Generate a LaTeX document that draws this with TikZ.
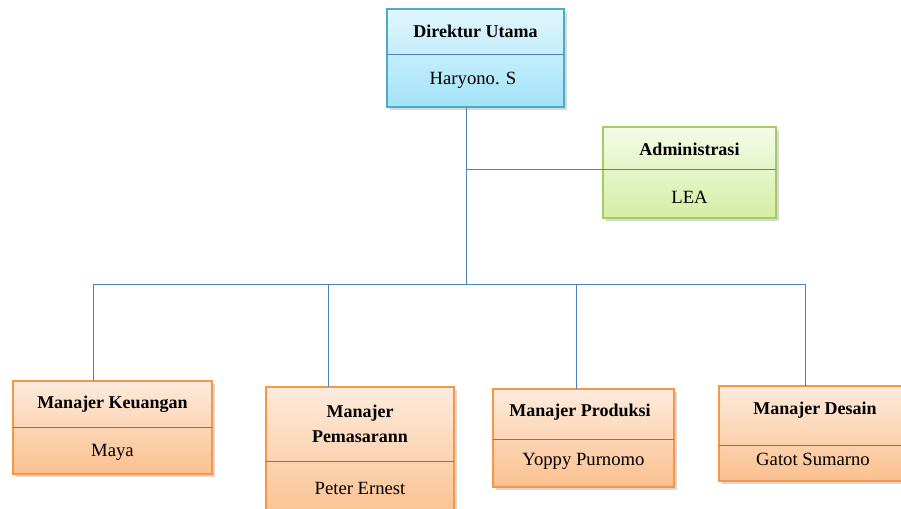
\documentclass[tikz,border=0pt]{standalone}
\usepackage{fontspec}
\setmainfont{Liberation Serif}
\usetikzlibrary{shadows}
\definecolor{garis}{HTML}{4F81BD}
\definecolor{birutepi}{HTML}{4BACC6}
\definecolor{birumuda}{HTML}{E2F6FD}
\definecolor{birutua}{HTML}{A2E3F7}
\definecolor{hijautepi}{HTML}{A5CB63}
\definecolor{hijaumuda}{HTML}{F4FBE8}
\definecolor{hijautua}{HTML}{D5EEA5}
\definecolor{oranyetepi}{HTML}{F79646}
\definecolor{oranyemuda}{HTML}{FDEBDD}
\definecolor{oranyetua}{HTML}{FBC08E}
\tikzset{
  kotak/.style={rectangle, line width=1pt, inner sep=0pt, outer sep=0pt,
    drop shadow={shadow xshift=2pt, shadow yshift=-2pt, opacity=0.3}},
  biru/.style={kotak, draw=birutepi, top color=birumuda, bottom color=birutua},
  hijau/.style={kotak, draw=hijautepi, top color=hijaumuda, bottom color=hijautua},
  oranye/.style={kotak, draw=oranyetepi, top color=oranyemuda, bottom color=oranyetua},
  judul/.style={font=\fontsize{13.5}{19}\selectfont\bfseries, align=center},
  nama/.style={font=\fontsize{14}{16}\selectfont},
  hubung/.style={draw=garis, line width=0.75pt}
}
\begin{document}
\begin{tikzpicture}[x=0.75pt, y=-0.75pt]
  \useasboundingbox (0,0) rectangle (901,508);
  \clip (0,0) rectangle (901,508);
  \fill[white] (0,0) rectangle (901,508);
  % kotak jabatan
  \node[biru, minimum width=132.75pt, minimum height=73.5pt] (dir) at (475.5,58) {};
  \node[hijau, minimum width=129.75pt, minimum height=68.25pt] (adm) at (689.5,172.5) {};
  \node[oranye, minimum width=149.25pt, minimum height=69.75pt] (keu) at (112.5,427.5) {};
  \node[oranye, minimum width=141pt, minimum height=99.75pt] (pem) at (360,453.5) {};
  \node[oranye, minimum width=135.75pt, minimum height=73.5pt] (pro) at (583.5,438) {};
  \node[oranye, minimum width=138pt, minimum height=71.25pt] (des) at (811,433.5) {};
  % garis pemisah
  \draw[hubung] (dir.west |- 0,54) -- (dir.east |- 0,54);
  \draw[hubung] (keu.west |- 0,427) -- (keu.east |- 0,427);
  \draw[hubung] (pem.west |- 0,461) -- (pem.east |- 0,461);
  \draw[hubung] (pro.west |- 0,439) -- (pro.east |- 0,439);
  \draw[hubung] (des.west |- 0,445) -- (des.east |- 0,445);
  % teks
  \node[judul] (dirjudul) at (475.5,31) {Direktur Utama};
  \node[nama] (dirnama) at (473,80) {Haryono. S};
  \node[judul] (admjudul) at (689.5,149) {Administrasi};
  \node[nama] (admnama) at (689.5,197) {LEA};
  \node[judul] (keujudul) at (112.5,404) {Manajer Keuangan};
  \node[nama] (keunama) at (112.5,452) {Maya};
  \node[judul] (pemjudul) at (360,424) {Manajer\\Pemasarann};
  \node[nama] (pemnama) at (360,488) {Peter Ernest};
  \node[judul] (projudul) at (580,412) {Manajer Produksi};
  \node[nama] (pronama) at (583.5,461) {Yoppy Purnomo};
  \node[judul] (desjudul) at (815,410) {Manajer Desain};
  \node[nama] (desnama) at (813,459) {Gatot Sumarno};
  % garis penghubung
  \coordinate (cabang) at (466,169);
  \coordinate (pusat) at (466,284);
  \coordinate (kaki1) at (93,284);
  \coordinate (kaki2) at (328,284);
  \coordinate (kaki3) at (576,284);
  \coordinate (kaki4) at (805,284);
  \draw[hubung] (cabang |- dir.south) -- (pusat);
  \draw[hubung] (cabang) -- (adm.east |- cabang);
  \draw[hubung] (kaki1) -- (kaki4);
  \draw[hubung] (kaki1) -- (kaki1 |- keu.north);
  \draw[hubung] (kaki2) -- (kaki2 |- pem.north);
  \draw[hubung] (kaki3) -- (kaki3 |- pro.north);
  \draw[hubung] (kaki4) -- (kaki4 |- des.north);
\end{tikzpicture}
\end{document}
